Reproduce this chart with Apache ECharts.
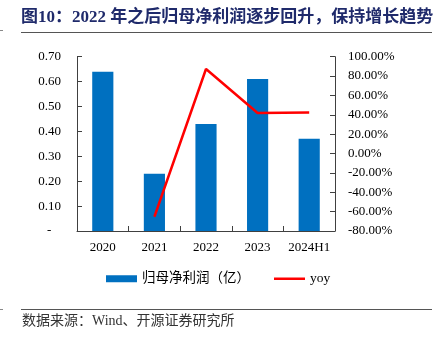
<!DOCTYPE html>
<html><head><meta charset="utf-8">
<script src="https://cdn.jsdelivr.net/npm/echarts@6/dist/echarts.min.js"></script>
<style>html,body{margin:0;padding:0;background:#fff}#c{width:443px;height:344px}</style>
</head><body><div id="c"></div>
<script>
const categories = ['2020', '2021', '2022', '2023', '2024H1'];
const profit = [0.64, 0.23, 0.43, 0.61, 0.37];
const yoy = [null, -65.3, 87.3, 41.8, 42.3];
const leftTicks = { min: 0, max: 0.7, interval: 0.1 };
const rightTicks = { min: -80, max: 100, interval: 20 };
const titleText = '图10：2022 年之后归母净利润逐步回升，保持增长趋势';
const sourceText = '数据来源：Wind、开源证券研究所';
const seriesNames = ['归母净利润（亿）', 'yoy'];

const FONT = '"Liberation Serif", "Noto Sans CJK SC", serif';
const axisColor = '#404040';
const chart = echarts.init(document.getElementById('c'), null, { renderer: 'canvas' });
chart.setOption({
  animation: false,
  backgroundColor: '#fff',
  title: {
    text: titleText, left: 21, top: 9, padding: 0,
    textStyle: { fontSize: 17, fontWeight: 'bold', color: '#1f2a6b', fontFamily: FONT }
  },
  graphic: [
    { type: 'line', shape: { x1: 21, y1: 32.5, x2: 432, y2: 32.5 }, style: { stroke: '#555', lineWidth: 1.2 } },
    { type: 'line', shape: { x1: 21, y1: 309.5, x2: 432, y2: 309.5 }, style: { stroke: '#555', lineWidth: 1.2 } },
    { type: 'line', shape: { x1: 0, y1: 30.5, x2: 3, y2: 30.5 }, style: { stroke: '#888', lineWidth: 1 } },
    { type: 'line', shape: { x1: 0, y1: 309.5, x2: 3, y2: 309.5 }, style: { stroke: '#888', lineWidth: 1 } },
    { type: 'text', left: 22, top: 314, style: { text: sourceText, fontSize: 14, fill: '#333', fontFamily: FONT } }
  ],
  legend: {
    left: 106, top: 272, padding: 0,
    itemWidth: 31, itemHeight: 7, itemGap: 24,
    textStyle: { fontSize: 13.5, color: '#000', fontFamily: FONT },
    data: [
      { name: seriesNames[0], icon: 'rect' },
      { name: seriesNames[1], icon: 'path://M0,0H31V2.5H0Z' }
    ]
  },
  grid: { left: 77, right: 108, top: 56.7, bottom: 113, containLabel: false },
  xAxis: {
    type: 'category', data: categories,
    axisLine: { lineStyle: { color: axisColor, width: 1 } },
    axisTick: { show: true, inside: true, length: 5, lineStyle: { color: axisColor } },
    axisLabel: { fontSize: 13, color: '#000', fontFamily: FONT, margin: 10, interval: 0 }
  },
  yAxis: [
    {
      type: 'value', min: leftTicks.min, max: leftTicks.max, interval: leftTicks.interval,
      splitLine: { show: false },
      axisLine: { show: true, lineStyle: { color: axisColor } },
      axisTick: { show: true, inside: true, length: 5, lineStyle: { color: axisColor } },
      axisLabel: {
        fontSize: 13, color: '#000', fontFamily: FONT, margin: 16,
        formatter: v => Math.abs(v) < 1e-9 ? '-   ' : v.toFixed(2)
      }
    },
    {
      type: 'value', min: rightTicks.min, max: rightTicks.max, interval: rightTicks.interval,
      splitLine: { show: false },
      axisLine: { show: true, lineStyle: { color: axisColor } },
      axisTick: { show: true, inside: true, length: 5, lineStyle: { color: axisColor } },
      axisLabel: {
        fontSize: 13, color: '#000', fontFamily: FONT, margin: 13,
        formatter: v => v.toFixed(2) + '%'
      }
    }
  ],
  series: [
    {
      name: seriesNames[0], type: 'bar', data: profit, yAxisIndex: 0,
      barWidth: '41%', itemStyle: { color: '#0070C0' }
    },
    {
      name: seriesNames[1], type: 'line', data: yoy, yAxisIndex: 1,
      symbol: 'none', connectNulls: false,
      lineStyle: { color: '#FF0000', width: 2.5 }, itemStyle: { color: '#FF0000' }
    }
  ]
});
</script></body></html>
